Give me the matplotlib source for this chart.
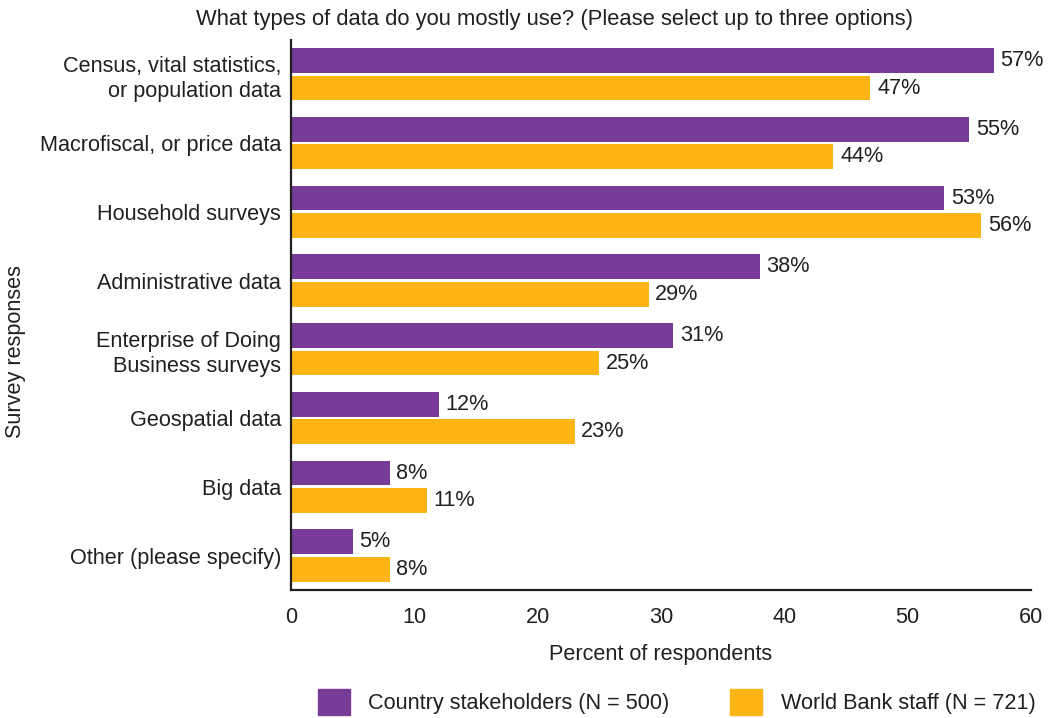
import numpy as np
import matplotlib.pyplot as plt
from matplotlib.patches import Patch

plt.rcParams['font.family'] = ['Liberation Sans', 'DejaVu Sans']

categories = ['Census, vital statistics,\nor population data', 'Macrofiscal, or price data',
              'Household surveys', 'Administrative data', 'Enterprise of Doing\nBusiness surveys',
              'Geospatial data', 'Big data', 'Other (please specify)']
country = [57, 55, 53, 38, 31, 12, 8, 5]
wb_staff = [47, 44, 56, 29, 25, 23, 11, 8]
series_names = ['Country stakeholders (N = 500)', 'World Bank staff (N = 721)']

purple = '#763c96'
orange = '#fdb515'
dark = '#231f20'
fs = 15.6

fig = plt.figure(figsize=(10.63, 7.18), dpi=100)
ax = fig.add_axes([0.2737, 0.1783, 0.696, 0.766])

y = np.arange(len(categories))
h = 0.36
b1 = ax.barh(y - h/2 - 0.02, country, height=h, color=purple)
b2 = ax.barh(y + h/2 + 0.02, wb_staff, height=h, color=orange)

for bars, vals in [(b1, country), (b2, wb_staff)]:
    for bar, v in zip(bars, vals):
        ax.text(v + 0.55, bar.get_y() + bar.get_height()/2, f'{v}%',
                va='center', ha='left', fontsize=fs, color=dark)

ax.set_xlim(0, 60)
ax.set_ylim(7.5, -0.5)
ax.set_yticks(y)
ax.set_yticklabels(categories, fontsize=fs, color=dark, linespacing=1.25)
ax.set_xticks(range(0, 61, 10))
ax.tick_params(axis='x', length=0, pad=12, labelsize=fs, labelcolor=dark)
ax.tick_params(axis='y', length=0, pad=7)
ax.spines['top'].set_visible(False)
ax.spines['right'].set_visible(False)
for s in ['left', 'bottom']:
    ax.spines[s].set_linewidth(1.6)
    ax.spines[s].set_color(dark)

ax.set_xlabel('Percent of respondents', fontsize=fs, color=dark, labelpad=12)
fig.text(0.015, 0.51, 'Survey responses', rotation=90, va='center', ha='center',
         fontsize=fs, color=dark)
fig.text(0.522, 0.973, 'What types of data do you mostly use? (Please select up to three options)',
         ha='center', va='center', fontsize=15.8, color=dark)

handles = [Patch(color=purple), Patch(color=orange)]
fig.legend(handles, series_names, loc='center left', bbox_to_anchor=(0.281, 0.022),
           ncol=2, frameon=False, fontsize=fs, handlelength=1.47, handleheight=1.47,
           handletextpad=0.85, columnspacing=2.8, labelcolor=dark)

fig.savefig('out.png', dpi=100)
